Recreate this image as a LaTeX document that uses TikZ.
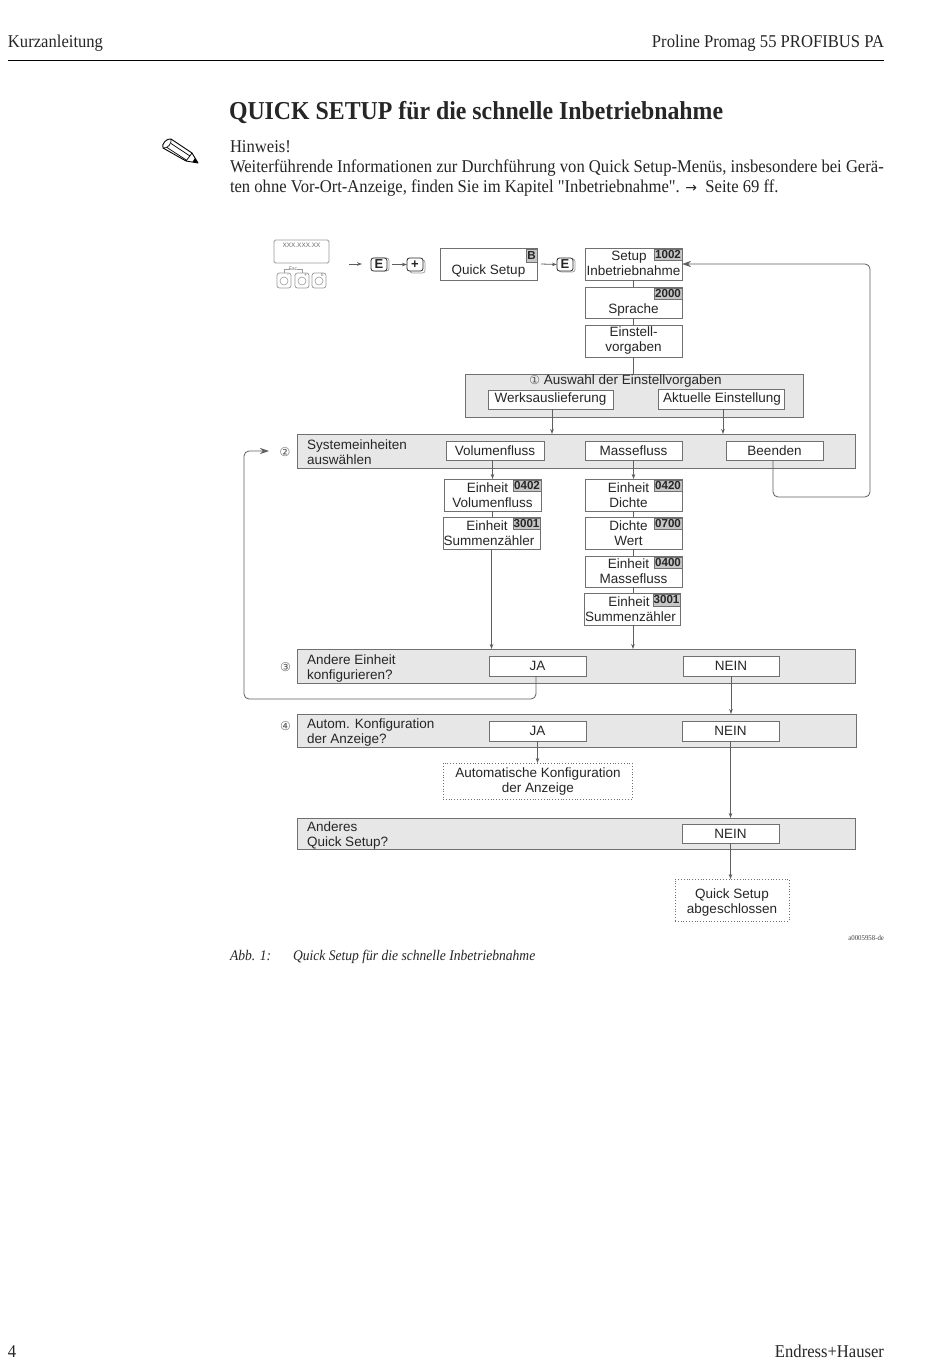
\documentclass[tikz,border=0pt]{standalone}
\usepackage{fontspec}
\setmainfont[FakeStretch=0.923]{Liberation Serif}
\setsansfont{Liberation Sans}
\newfontfamily\djv{DejaVu Sans}
\newfontfamily\rawserif[FakeStretch=0.923]{Liberation Serif}
\usetikzlibrary{arrows.meta,calc}
\definecolor{ink}{HTML}{262626}
\definecolor{edge}{HTML}{707070}
\definecolor{panelfill}{HTML}{E7E7E7}
\definecolor{tagfill}{HTML}{C6C6C6}
\definecolor{keyc}{HTML}{9A9A9A}
\tikzset{
 x=1pt,y=-1pt,
 every node/.style={inner sep=0pt,outer sep=0pt,text=ink},
 sf/.style={font=\sffamily\fontsize{13.5}{15}\selectfont,align=center},
 boxn/.style={sf,draw=edge,line width=0.9pt,fill=white},
 panel/.style={draw=edge,line width=0.9pt,fill=panelfill},
 endbox/.style={sf,draw=edge,line width=0.8pt,dotted,fill=white},
 plabel/.style={font=\sffamily\fontsize{13.5}{15}\selectfont,align=left,anchor=west},
 tagn/.style={draw=edge,line width=0.6pt,fill=tagfill,font=\sffamily\bfseries\fontsize{11.6}{12}\selectfont},
 line/.style={draw=edge!85!black,line width=0.8pt},
 arr/.style={line,-{Stealth[length=5pt,width=3.6pt]}},
 bigarr/.style={line,rounded corners=5pt,-{Stealth[length=9pt,width=6pt]}},
 numc/.style={font=\djv\fontsize{12}{12}\selectfont,text=black!65},
 keyn/.style={draw=ink,line width=0.8pt,rounded corners=2.5pt,fill=white,font=\sffamily\bfseries\fontsize{13}{13}\selectfont},
 keyb/.style={draw=keyc,line width=0.7pt,rounded corners=2.5pt,fill=white},
 hd/.style={font=\fontsize{18}{20}\selectfont,anchor=base west},
 hdr/.style={font=\fontsize{18}{20}\selectfont,anchor=base east},
}
\newcommand{\bx}[7][boxn]{\node[#1,minimum width={(#4-#3)*1pt},minimum height={(#6-#5)*1pt}] (#2) at ({(#3+#4)/2},{(#5+#6)/2}) {#7};}
\newcommand{\tg}[6]{\node[tagn,minimum width={(#3-#2)*1pt},minimum height={(#5-#4)*1pt}] (#1) at ({(#2+#3)/2},{(#4+#5)/2}) {#6};}
\begin{document}
\begin{tikzpicture}
\useasboundingbox (0,0) rectangle (950,1370);
\fill[white] (0,0) rectangle (950,1370);
% header
\node[hd] (hl) at (8,48) {Kurzanleitung};
\node[hdr] (hr) at (884,48) {Proline Promag 55 PROFIBUS PA};
\coordinate (rl) at (8,61); \coordinate (rr) at (884,61);
\draw[black,line width=1pt] (rl) -- (rr);
% title and note
\node[anchor=base west,font=\bfseries\fontsize{25.8}{30}\selectfont] (title) at (229,120) {QUICK SETUP für die schnelle Inbetriebnahme};
\node[hd] (n1) at (230,152.5) {Hinweis!};
\node[hd] (n2) at (230,172.5) {Weiterführende Informationen zur Durchführung von Quick Setup-Menüs, insbesondere bei Gerä-};
\node[hd] (n3) at (230,192.5) {ten ohne Vor-Ort-Anzeige, finden Sie im Kapitel {\rawserif"}Inbetriebnahme{\rawserif"}. {\djv\fontsize{14}{14}\selectfont →} \ Seite 69 ff.};
% pencil
\draw[black,line width=0.9pt,line join=round] (171,139) -- (192,153) -- (198,163) -- (186,161) -- (163,148)
  .. controls (161,144) and (167,138) .. (171,139);
\draw[black,line width=0.7pt] (171,139) .. controls (172,143) and (168,149) .. (163,148);
\draw[black,line width=0.7pt] (171,143.5) -- (190,156) (167,147.5) -- (187,160.5);
\draw[black,line width=0.7pt] (192,153) -- (186,161);
\fill[black] (198,163) -- (195,158) -- (192.5,161.8) -- cycle;
% device display
\bx[draw=keyc,line width=0.8pt,rounded corners=1.5pt]{disp}{274}{329}{240}{263}{}
\node[font=\sffamily\fontsize{6.4}{7}\selectfont,text=black!60] (dtxt) at (301.5,245.5) {XXX.XXX.XX};
\bx[keyb]{k1}{277}{291}{273}{288}{}
\bx[keyb]{k2}{295}{309}{273}{288}{}
\bx[keyb]{k3}{312}{326}{273}{288}{}
\node[draw=keyc,circle,line width=0.6pt,minimum size=8pt] (c1) at (284,281) {};
\node[draw=keyc,circle,line width=0.6pt,minimum size=8pt] (c2) at (302,281) {};
\node[draw=keyc,circle,line width=0.6pt,minimum size=8pt] (c3) at (319,281) {};
\node[font=\sffamily\fontsize{5}{5}\selectfont,text=black!60] (esc) at (293,269) {Esc};
\draw[keyc,line width=0.5pt] (k1.north) |- (esc.west) (esc.east) -| (k2.north);
\node[font=\sffamily\fontsize{5}{5}\selectfont,text=black!60] (ms) at (288,275.5) {-};
\node[font=\sffamily\fontsize{5}{5}\selectfont,text=black!60] (pl) at (305.5,275.5) {+};
\node[font=\sffamily\fontsize{4}{4}\selectfont,text=black!60] (ee) at (322.5,275.5) {E};
% keys row
\coordinate (a0) at (349,264); \coordinate (a0e) at (362,264);
\bx[keyb]{e1b}{373}{389}{258}{271}{}
\bx[keyn]{e1}{371}{387}{258}{271}{E}
\bx[keyb]{p1b}{410}{425}{260}{273}{}
\bx[keyn]{p1}{407}{423}{258}{271}{+}
\draw[arr] (a0) -- (a0e);
\draw[arr] (e1b.east) ++(3,0) -- (p1.west);
\bx{qs}{440}{537}{248}{280}{\phantom{X}\\[-1pt]Quick Setup}
\tg{qst}{526}{537}{249}{262}{B}
\bx[keyb]{e2b}{559}{575}{259}{272}{}
\bx[keyn]{e2}{557}{573}{258}{271}{E}
\draw[arr] (qs.east) ++(4,0) -- (e2.west);
% first column
\bx{setup}{585}{682}{248}{280}{}
\node[sf] (setupt) at (633.5,263) {Setup\hspace*{9pt}\\Inbetriebnahme};
\tg{t1002}{654}{682}{249}{260}{1002}
\bx{spr}{585}{682}{287}{318}{\phantom{X}\\Sprache}
\tg{t2000}{654}{682}{288}{299}{2000}
\bx{einst}{585}{682}{325}{357}{Einstell-\\vorgaben}
\draw[line] (setup.south) -- (spr.north);
\draw[line] (spr.south) -- (einst.north);
% panel 1
\bx[panel]{pa}{465}{803}{374}{417}{}
\draw[line] (einst.south) -- (einst.south |- pa.north);
\node[sf] (pat) at (625.5,381) {{\djv\fontsize{12}{12}\selectfont\color{black!65}①} Auswahl der Einstellvorgaben};
\bx{werk}{488}{613}{390}{409}{Werksauslieferung}
\bx{akt}{658}{784}{389}{409}{\hspace*{2pt}Aktuelle Einstellung}
% panel 2
\bx[panel]{pb}{297}{855}{434}{468}{}
\node[plabel] (pbt) at (307,452.5) {Systemeinheiten\\auswählen};
\node[numc] (n2c) at (285,452) {②};
\bx{vol}{446}{544}{441}{460}{Volumenfluss}
\bx{mas}{585}{682}{441}{460}{Massefluss}
\bx{bee}{726}{823}{441}{460}{Beenden}
\coordinate (wk) at (552,409); \coordinate (ak) at (723,409);
\draw[arr] (wk) -- (wk |- pb.north);
\draw[arr] (ak) -- (ak |- pb.north);
% volume column
\bx{e402}{444}{541}{479}{511}{Einheit\hspace*{10pt}\\Volumenfluss}
\tg{t402}{513}{541}{480}{491}{0402}
\bx{s3001}{443}{540}{517}{549}{Einheit\hspace*{9pt}\\Summenzähler\hspace*{5pt}}
\tg{t3001a}{513}{540}{518}{529}{3001}
\draw[arr] (e402.north |- vol.south) -- (e402.north);
\draw[line] (e402.south) -- (e402.south |- s3001.north);
% mass column
\bx{e420}{585}{682}{479}{511}{Einheit\hspace*{10pt}\\Dichte\hspace*{10pt}}
\tg{t420}{654}{682}{480}{491}{0420}
\bx{d700}{585}{682}{517}{549}{Dichte\hspace*{10pt}\\Wert\hspace*{10pt}}
\tg{t700}{654}{682}{518}{529}{0700}
\bx{e400}{585}{682}{556}{587}{Einheit\hspace*{10pt}\\Massefluss}
\tg{t400}{654}{682}{557}{568}{0400}
\bx{s3001b}{584}{680}{593}{625}{Einheit\hspace*{6pt}\\Summenzähler\hspace*{3pt}}
\tg{t3001b}{653}{680}{594}{606}{3001}
\draw[arr] (mas.south) -- (e420.north);
\draw[line] (e420.south) -- (d700.north);
\draw[line] (d700.south) -- (e400.north);
\draw[line] (e400.south) -- (e400.south |- s3001b.north);
% panel 3
\bx[panel]{pc}{297}{855}{649}{683}{}
\node[plabel] (pct) at (307,668.5) {Andere Einheit\\konfigurieren?};
\node[numc] (n3c) at (285.5,667) {③};
\bx{ja1}{489}{586}{656}{676}{JA}
\bx{ne1}{683}{779}{656}{676}{NEIN}
\draw[arr] (s3001.south) -- (s3001.south |- pc.north);
\draw[arr] ([xshift=1pt]s3001b.south) -- ([xshift=1pt]s3001b.south |- pc.north);
% panel 4
\bx[panel]{pd}{297}{856}{714}{747}{}
\node[plabel] (pdt) at (307,732.5) {Autom. Konfiguration\\der Anzeige?};
\node[numc] (n4c) at (285.5,726) {④};
\bx{ja2}{489}{586}{721}{741}{JA}
\bx{ne2}{682}{779}{721}{741}{NEIN}
\bx[endbox]{auto}{443}{632}{763}{799}{}
\node[sf] (autot) at (538,781.5) {Automatische Konfiguration\\der Anzeige};
\draw[arr] (ja2.south) -- (ja2.south |- auto.north);
\draw[arr] (ne1.south) -- (ne1.south |- pd.north);
% panel 5
\bx[panel]{pe}{297}{855}{818}{849}{}
\node[plabel] (pet) at (307,835) {Anderes\\Quick Setup?};
\bx{ne3}{682}{779}{824}{843}{NEIN}
\bx[endbox]{done}{675}{789}{879}{921}{}
\node[sf] (donet) at (732,902) {Quick Setup\\abgeschlossen};
\draw[arr] (ne2.south) -- (ne2.south |- pe.north);
\draw[arr] (ne3.south) -- (ne3.south |- done.north);
% return loops
\coordinate (rb) at (870,497);
\draw[bigarr] ([xshift=-1.5pt]bee.south) |- (rb) |- (setup.east);
\coordinate (lb) at (244,699);
\coordinate (lt) at (269,451);
\draw[bigarr] ([xshift=-1.5pt]ja1.south) |- (lb) |- (lt);
% footnotes
\node[anchor=east,font=\fontsize{7.4}{8}\selectfont,text=black!75] (code) at (884,938) {a0005958-de};
\node[anchor=base west,font=\itshape\fontsize{14.7}{17}\selectfont] (cap1) at (230,960) {Abb. 1:};
\node[anchor=base west,font=\itshape\fontsize{14.7}{17}\selectfont] (cap2) at (293,960) {Quick Setup für die schnelle Inbetriebnahme};
\node[hd] (pg) at (8,1357) {4};
\node[hdr] (eh) at (884,1357) {Endress+Hauser};
\end{tikzpicture}
\end{document}
